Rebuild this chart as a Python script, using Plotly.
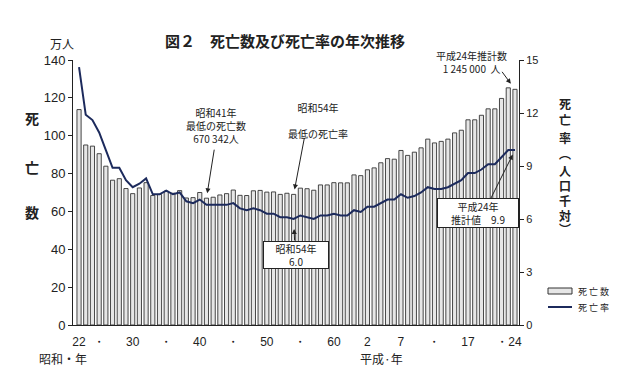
import plotly.graph_objects as go

# 昭和22年(1947) ～ 平成24年(2012)
years = list(range(1947, 2013))
deaths = [113.8, 95.1, 94.5, 90.5, 83.9, 76.5, 77.3, 72.1, 69.4, 72.4,
          75.2, 68.4, 69.0, 70.7, 69.6, 71.0, 67.1, 67.3, 70.0, 67.0,
          67.5, 68.7, 69.4, 71.3, 68.5, 68.4, 70.9, 71.1, 70.2, 70.3,
          69.0, 69.6, 69.0, 72.3, 72.0, 71.2, 74.0, 74.0, 75.2, 75.1,
          75.1, 79.3, 78.9, 82.0, 83.0, 85.7, 87.9, 87.6, 92.2, 89.6,
          91.3, 93.6, 98.2, 96.2, 97.0, 98.2, 101.5, 102.9, 108.4, 108.4,
          110.8, 114.2, 114.2, 119.7, 125.3, 124.5]
rates = [14.6, 11.9, 11.6, 10.9, 9.9, 8.9, 8.9, 8.2, 7.8, 8.0,
         8.3, 7.4, 7.4, 7.6, 7.4, 7.5, 7.0, 6.9, 7.1, 6.8,
         6.8, 6.8, 6.8, 6.9, 6.6, 6.5, 6.6, 6.5, 6.3, 6.3,
         6.1, 6.1, 6.0, 6.2, 6.1, 6.0, 6.2, 6.2, 6.3, 6.2,
         6.2, 6.5, 6.4, 6.7, 6.7, 6.9, 7.1, 7.1, 7.4, 7.2,
         7.3, 7.5, 7.8, 7.7, 7.7, 7.8, 8.0, 8.2, 8.6, 8.6,
         8.8, 9.1, 9.1, 9.5, 9.9, 9.9]
tick_years = [1947, 1950, 1955, 1960, 1965, 1970, 1975, 1980, 1985,
              1990, 1995, 2000, 2005, 2010, 2012]
tick_text = ["22", "・", "30", "・", "40", "・", "50", "・", "60",
             "2", "7", "・", "17", "・", "24"]

idx = list(range(len(years)))
tickvals = [years.index(y) for y in tick_years]

JP = "Noto Sans CJK JP, Noto Sans, sans-serif"
NUM = "Liberation Sans Narrow, Arial Narrow, Liberation Sans, sans-serif"
BAR_FILL = "#e6e6e6"
BAR_LINE = "#333333"
LINE_COLOR = "#1c2a5c"
TXT = "#222"

# plot area in pixels
L, R, T, B = 73, 519, 60, 325
W, H = 640, 385


def px(xp):
    return (xp - L) / (R - L)


def py(yp):
    return (B - yp) / (B - T)


def label(text, x, y, size=10, xanchor="center", **kw):
    d = dict(text=text, x=px(x), y=py(y), xref="paper", yref="paper", showarrow=False,
             xanchor=xanchor, yanchor="middle", font=dict(family=JP, size=size, color=TXT))
    d.update(kw)
    return d


fig = go.Figure()
fig.add_trace(go.Bar(x=idx, y=deaths, name="死 亡 数",
                     marker=dict(color=BAR_FILL, line=dict(color=BAR_LINE, width=0.9)),
                     yaxis="y"))
fig.add_trace(go.Scatter(x=idx, y=rates, name="死 亡 率", mode="lines",
                         line=dict(color=LINE_COLOR, width=2), yaxis="y2"))

fig.update_layout(
    width=W, height=H,
    margin=dict(l=L, r=W - R, t=T, b=H - B, pad=0, autoexpand=False),
    paper_bgcolor="white", plot_bgcolor="white",
    bargap=0.38,
    showlegend=False,
    xaxis=dict(range=[-0.9, 65.6], tickmode="array", tickvals=tickvals, ticktext=tick_text,
               tickangle=0, showline=True, linecolor=TXT, linewidth=1.2, ticks="",
               ticklabelstandoff=5,
               tickfont=dict(family=NUM, size=12, color=TXT), showgrid=False,
               zeroline=False),
    yaxis=dict(range=[0, 140], dtick=20, showline=True, linecolor=TXT, linewidth=1,
               ticks="outside", ticklen=4, tickcolor=TXT,
               tickfont=dict(family="Liberation Sans, sans-serif", size=13, color=TXT),
               showgrid=False, zeroline=False),
    yaxis2=dict(range=[0, 15], dtick=3, overlaying="y", side="right",
                showline=True, linecolor=TXT, linewidth=1,
                ticks="outside", ticklen=4, tickcolor=TXT,
                tickfont=dict(family=NUM, size=11, color=TXT),
                showgrid=False, zeroline=False),
)

ann = []
ann.append(label("<b>図２　死亡数及び死亡率の年次推移</b>", 285, 40, size=15))
ann.append(label("万人", 62, 43, size=12))
for ch, yy in zip(["死", "亡", "数"], [118, 167, 212]):
    ann.append(label("<b>" + ch + "</b>", 32, yy, size=14))
for ch, yy in zip(list("死亡率︵人口千対︶"), [103, 120, 137, 153, 170, 185, 200, 215, 228]):
    ann.append(label("<b>" + ch + "</b>", 565, yy, size=12))
ann.append(label("昭和・年", 63, 358, size=12))
ann.append(label("平成·年", 381, 358, size=12))

# legend (drawn by hand)
ann.append(label("死 亡 数", 576, 291, size=9, xanchor="left"))
ann.append(label("死 亡 率", 576, 307, size=9, xanchor="left"))
shapes = [
    dict(type="rect", xref="paper", yref="paper", x0=px(548), x1=px(572), y0=py(294), y1=py(288),
         fillcolor=BAR_FILL, line=dict(color=BAR_LINE, width=1)),
    dict(type="line", xref="paper", yref="paper", x0=px(548), x1=px(572), y0=py(307), y1=py(307),
         line=dict(color=LINE_COLOR, width=2)),
]

# text annotations
ann.append(label("平成24年推計数<br>1 245 000  人", 471, 62))
ann.append(label("昭和41年<br>最低の死亡数<br>670 342人", 216, 126))
ann.append(label("昭和54年<br><br>最低の死亡率", 318, 121))
ann.append(label("昭和54年<br>6.0", 296, 255, bgcolor="white", bordercolor=TXT,
                 borderwidth=1, width=62, height=24))
ann.append(label("平成24年<br>推計値　9.9", 478, 213, bgcolor="white", bordercolor=TXT,
                 borderwidth=1, width=78, height=26))

# arrows anchored to data
i41 = years.index(1966)
i54 = years.index(1979)
ilast = len(years) - 1
arrow = dict(text="", showarrow=True, arrowhead=2, arrowsize=1, arrowwidth=1,
             arrowcolor=TXT, axref="pixel", ayref="pixel")
ann.append(dict(arrow, x=ilast, y=deaths[ilast], xref="x", yref="y", ax=-14, ay=-19, standoff=7))
ann.append(dict(arrow, x=i41, y=deaths[i41], xref="x", yref="y", ax=8, ay=-50, standoff=5))
ann.append(dict(arrow, x=i54, y=deaths[i54], xref="x", yref="y", ax=11, ay=-58, standoff=5))
ann.append(dict(arrow, x=i54, y=rates[i54], xref="x", yref="y2", ax=1, ay=23, standoff=10))
ann.append(dict(arrow, x=ilast, y=rates[ilast], xref="x", yref="y2", ax=-25, ay=50, standoff=5))

fig.update_layout(annotations=ann, shapes=shapes)
fig.write_html("out.html", config={"displayModeBar": False},
               post_script="document.body.style.margin='0';document.body.style.overflow='hidden';")
